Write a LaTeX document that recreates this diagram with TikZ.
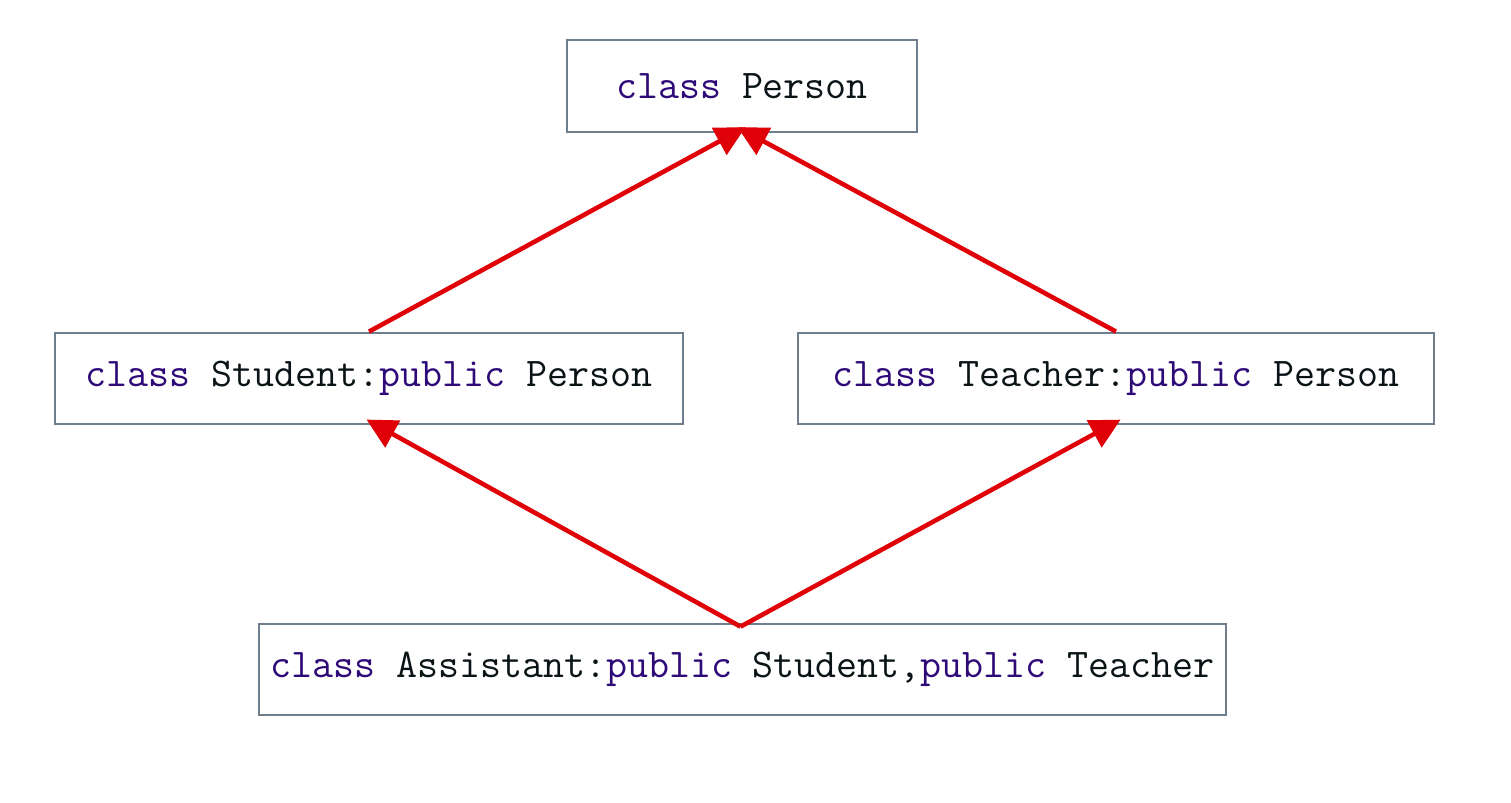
\documentclass[tikz,border=0pt]{standalone}
\usepackage{xcolor}
\usepackage{tikz}
\usetikzlibrary{calc, positioning, arrows.meta}
\definecolor{kwPurple}{HTML}{2E0A78}
\definecolor{inkDark}{HTML}{0A1416}
\definecolor{frameGrey}{HTML}{6F7E8C}
\definecolor{arrowRed}{HTML}{E00008}
\newcommand{\kw}[1]{\textcolor{kwPurple}{#1}}
\tikzset{
  cls/.style  = {draw=frameGrey, line width=1.3pt, fill=white, text=inkDark,
                 font=\fontsize{23.2}{28}\selectfont\ttfamily, minimum height=1.83cm,
                 inner sep=0pt},
  inh/.style  = {-{Triangle[length=6mm, width=6mm]}, draw=arrowRed,
                 line width=2.6pt, shorten >=-0.24cm}
}
\begin{document}
\begin{tikzpicture}[x=0.02cm, y=0.02cm]
  \useasboundingbox (0,0) rectangle (1511,803);

  \node[cls, minimum width=7cm] (person) at (742,717) {\kw{class} Person};
  \node[cls, minimum width=12.56cm] (student) at (369,424.5) {\kw{class} Student:\kw{public} Person};
  \node[cls, minimum width=12.72cm] (teacher) at (1116,424.5) {\kw{class} Teacher:\kw{public} Person};
  \node[cls, minimum width=19.34cm] (assistant) at (742.5,133.5)
    {\kw{class} Assistant:\kw{public} Student,\kw{public} Teacher};

  \draw[inh] (student.north) -- ($(person.south)+(-7,0)$);
  \draw[inh] (teacher.north) -- ($(person.south)+(6,0)$);
  \draw[inh] ($(assistant.north)+(-2,-4)$) -- ($(student.south)+(8,0)$);
  \draw[inh] ($(assistant.north)+(-2,-4)$) -- ($(teacher.south)+(-6,0)$);
\end{tikzpicture}
\end{document}
